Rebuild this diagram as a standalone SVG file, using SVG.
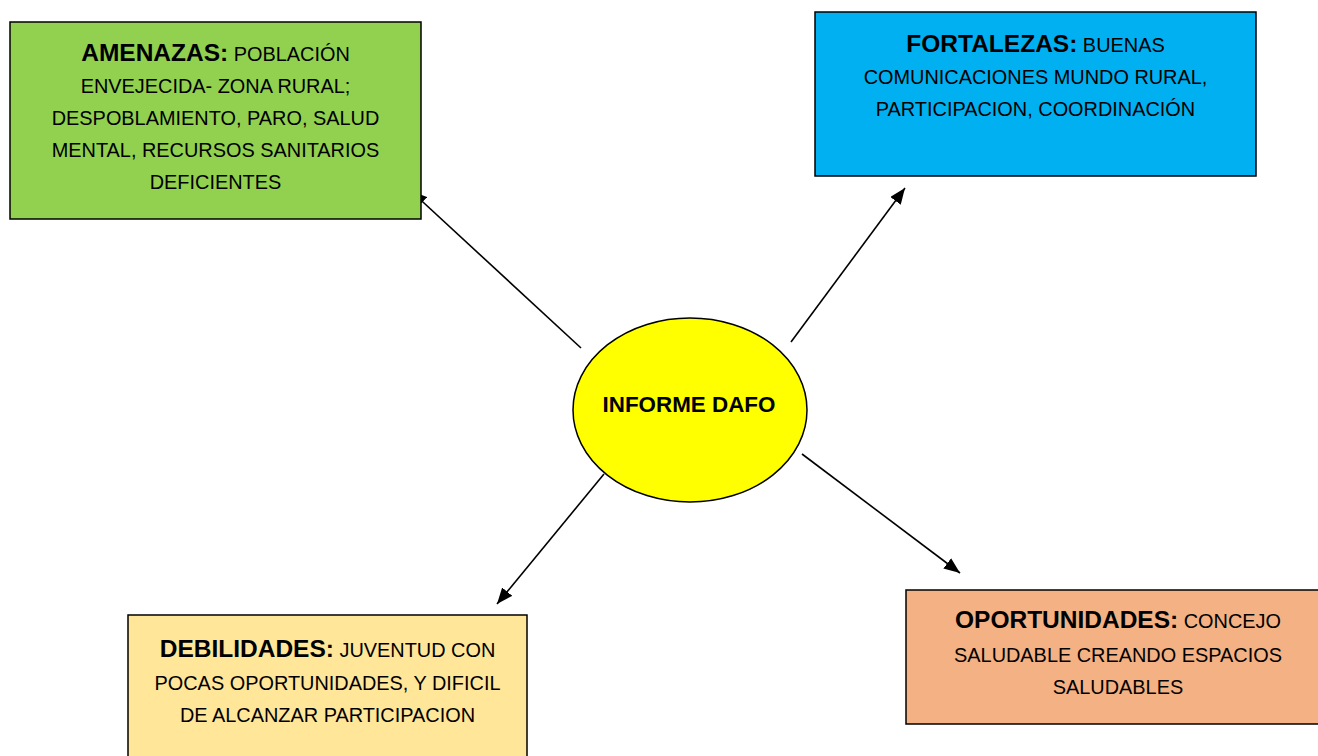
<svg xmlns="http://www.w3.org/2000/svg" width="1318" height="756" viewBox="0 0 1318 756">
<style>
.box{stroke:#000;stroke-width:1.5}
.t{font-family:"Liberation Sans",Arial,sans-serif;font-size:19.9px;fill:#000;text-anchor:middle}
.b{font-weight:bold;font-size:24.5px}
.conn{stroke:#000;stroke-width:1.6;fill:none;marker-end:url(#ah)}
</style>
<defs>
<marker id="ah" markerUnits="userSpaceOnUse" markerWidth="16" markerHeight="13" refX="16" refY="6.5" orient="auto">
<path d="M0,0 L16,6.5 L0,13 z" fill="#000"/>
</marker>
</defs>
<rect width="1318" height="756" fill="#fff"/>
<g id="connectors">
<line class="conn" x1="581" y1="348" x2="411" y2="191"/>
<line class="conn" x1="791" y1="342" x2="905" y2="188"/>
<line class="conn" x1="604" y1="474" x2="497" y2="604"/>
<line class="conn" x1="802" y1="454" x2="960" y2="573"/>
</g>
<g id="amenazas">
<rect class="box" x="10" y="22" width="411" height="197" fill="#92D050"/>
<text class="t" x="215.5" y="61"><tspan class="b">AMENAZAS:</tspan> POBLACIÓN</text>
<text class="t" x="215.5" y="93">ENVEJECIDA- ZONA RURAL;</text>
<text class="t" x="215.5" y="125">DESPOBLAMIENTO, PARO, SALUD</text>
<text class="t" x="215.5" y="157">MENTAL, RECURSOS SANITARIOS</text>
<text class="t" x="215.5" y="189">DEFICIENTES</text>
</g>
<g id="fortalezas">
<rect class="box" x="815" y="12" width="441" height="164" fill="#00B0F0"/>
<text class="t" x="1035.5" y="52"><tspan class="b">FORTALEZAS:</tspan> BUENAS</text>
<text class="t" x="1035.5" y="84">COMUNICACIONES MUNDO RURAL,</text>
<text class="t" x="1035.5" y="116">PARTICIPACION, COORDINACIÓN</text>
</g>
<g id="informe">
<ellipse class="box" cx="690" cy="410" rx="117" ry="92" fill="#FFFF00"/>
<text class="t b" x="689" y="412" style="font-size:22.4px">INFORME DAFO</text>
</g>
<g id="debilidades">
<rect class="box" x="128" y="615" width="399" height="160" fill="#FFE699"/>
<text class="t" x="327.5" y="657"><tspan class="b">DEBILIDADES:</tspan> JUVENTUD CON</text>
<text class="t" x="327.5" y="690">POCAS OPORTUNIDADES, Y DIFICIL</text>
<text class="t" x="327.5" y="722">DE ALCANZAR PARTICIPACION</text>
</g>
<g id="oportunidades">
<rect class="box" x="906" y="590" width="424" height="134" fill="#F4B183"/>
<text class="t" x="1118" y="628"><tspan class="b">OPORTUNIDADES:</tspan> CONCEJO</text>
<text class="t" x="1118" y="662">SALUDABLE CREANDO ESPACIOS</text>
<text class="t" x="1118" y="694">SALUDABLES</text>
</g>
</svg>
